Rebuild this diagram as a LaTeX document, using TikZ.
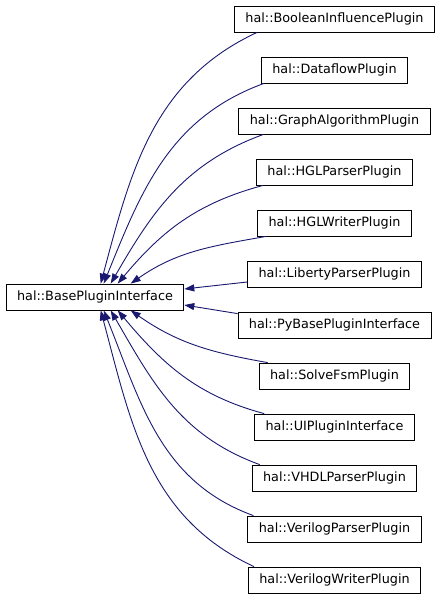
\documentclass[tikz,border=0pt]{standalone}
\usepackage{fontspec}
\setmainfont{DejaVu Sans}
\usetikzlibrary{arrows.meta}
\definecolor{edgeblue}{RGB}{25,25,112}

\begin{document}
\begin{tikzpicture}
   \tikzstyle{every node}=[node distance=51pt]
   \tikzstyle{cls}=[draw,line width=0.8pt,inner xsep=11pt,minimum height=26pt,font=\fontsize{12.8}{15}\selectfont]
   \tikzstyle{inh}=[edgeblue,line width=0.9pt,-{Triangle[length=10pt,width=7pt]}]

   \useasboundingbox (0,0) rectangle (441pt,-595pt);

   \node (base) [cls] at (95pt,-297pt) {hal::BasePluginInterface} ;

   \node (bool) [cls] at (334.5pt,-19pt) {hal::BooleanInfluencePlugin} ;
   \node (dflow) [cls,below of=bool] {hal::DataflowPlugin} ;
   \node (graph) [cls,below of=dflow] {hal::GraphAlgorithmPlugin} ;
   \node (hglp) [cls,below of=graph] {hal::HGLParserPlugin} ;
   \node (hglw) [cls,below of=hglp] {hal::HGLWriterPlugin} ;
   \node (lib) [cls,below of=hglw] {hal::LibertyParserPlugin} ;
   \node (pybase) [cls,below of=lib] {hal::PyBasePluginInterface} ;
   \node (solve) [cls,below of=pybase] {hal::SolveFsmPlugin} ;
   \node (ui) [cls,below of=solve] {hal::UIPluginInterface} ;
   \node (vhdl) [cls,below of=ui] {hal::VHDLParserPlugin} ;
   \node (vparse) [cls,below of=vhdl] {hal::VerilogParserPlugin} ;
   \node (vwrite) [cls,below of=vparse] {hal::VerilogWriterPlugin} ;

   % upper children
   \draw [inh] ([xshift=23pt]bool.south west) to[out=205,in=75] ([xshift=95pt]base.north west) ;
   \draw [inh] ([xshift=3pt]dflow.south west) to[out=200,in=68] ([xshift=98pt]base.north west) ;
   \draw [inh] ([xshift=25pt]graph.south west) to[out=200,in=60] ([xshift=105pt]base.north west) ;
   \draw [inh] ([xshift=7pt]hglp.south west) to[out=195,in=50] ([xshift=112pt]base.north west) ;
   \draw [inh] ([xshift=9pt]hglw.south west) to[out=190,in=35] ([xshift=125pt]base.north west) ;

   \draw [inh] ([yshift=-8pt]lib.west) -- ([yshift=8pt]base.east) ;
   \draw [inh] ([yshift=-2pt]pybase.north west) -- ([yshift=-8pt]base.east) ;

   % lower children
   \draw [inh] ([xshift=9pt]solve.north west) to[out=170,in=-35] ([xshift=125pt]base.south west) ;
   \draw [inh] ([xshift=10pt]ui.north west) to[out=165,in=-50] ([xshift=112pt]base.south west) ;
   \draw [inh] ([xshift=8pt]vhdl.north west) to[out=160,in=-60] ([xshift=105pt]base.south west) ;
   \draw [inh] ([xshift=6pt]vparse.north west) to[out=160,in=-68] ([xshift=98pt]base.south west) ;
   \draw [inh] ([xshift=6pt]vwrite.north west) to[out=155,in=-75] ([xshift=95pt]base.south west) ;

\end{tikzpicture}
\end{document}
